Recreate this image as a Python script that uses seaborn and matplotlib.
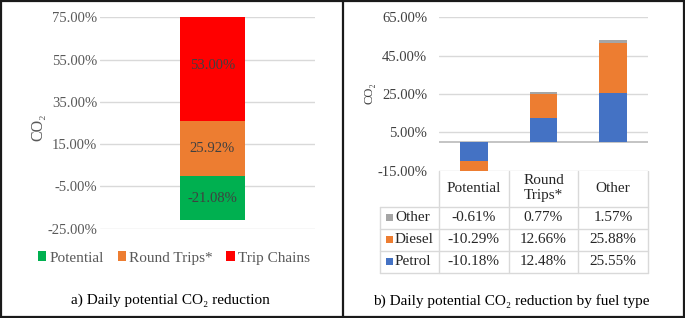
import matplotlib
matplotlib.use("Agg")
import numpy as np
import pandas as pd
import seaborn as sns
import matplotlib.pyplot as plt
import matplotlib.transforms as mtransforms
from matplotlib.patches import Patch, Rectangle
from matplotlib.lines import Line2D

# panel a) - one stacked bar
trip_series = ["Potential", "Round Trips*", "Trip Chains"]
trip_values = [-21.08, 25.92, 53.00]
trip_colors = ["#00B050", "#ED7D31", "#FF0000"]
left_ticks = [-25, -5, 15, 35, 55, 75]

# panel b) - by fuel type
fuel_categories = ["Potential", "Round Trips*", "Other"]
fuel_header = ["Potential", "Round\nTrips*", "Other"]
fuel_series = ["Petrol", "Diesel", "Other"]
petrol = [-10.18, 12.48, 25.55]
diesel = [-10.29, 12.66, 25.88]
other = [-0.61, 0.77, 1.57]
fuel_colors = ["#4472C4", "#ED7D31", "#A5A5A5"]
right_ticks = [-15, 5, 25, 45, 65]

sns.set_theme(style="white")
plt.rcParams['font.family'] = ['Liberation Serif', 'DejaVu Serif']

W, H = 685, 318
fig = plt.figure(figsize=(W / 100, H / 100), dpi=100)


def fx(px):
    return px / W


def fy(py):
    return 1 - py / H


def stack_bottoms(series):
    n = len(series[0])
    pos = np.zeros(n)
    neg = np.zeros(n)
    out = []
    for v in series:
        v = np.asarray(v, dtype=float)
        out.append(np.where(v >= 0, pos, neg))
        pos = pos + np.where(v >= 0, v, 0)
        neg = neg + np.where(v < 0, v, 0)
    return out


# ---------- left panel ----------
ax1 = fig.add_axes([fx(100), fy(228.7), fx(215), 211.4 / H])
left_vals = [[v] for v in trip_values]
left_bottoms = stack_bottoms(left_vals)
for name, v, b, c in zip(trip_series, left_vals, left_bottoms, trip_colors):
    sns.barplot(x=["CO2"], y=v, bottom=b, color=c, width=0.3, saturation=1,
                errorbar=None, linewidth=0, ax=ax1)
    ax1.text(0, b[0] + v[0] / 2, f"{v[0]:.2f}%", ha="center", va="center",
             color="#404040", fontsize=10.5)
ax1.set_ylim(-25, 75)
ax1.set_xlim(-0.523, 0.477)
ax1.set_yticks(left_ticks)
ax1.set_yticklabels([f"{t:.2f}%" for t in left_ticks])
ax1.set_xticks([])
ax1.set_xlabel("")
ax1.yaxis.grid(True, color="#D9D9D9", lw=1)
ax1.set_axisbelow(True)
sns.despine(ax=ax1, left=True, bottom=True)
ax1.tick_params(axis="y", length=0, labelsize=10.5, labelcolor="#595959", pad=2)
fig.text(fx(38), fy(127), "CO₂", rotation=90, ha="center", va="center",
         fontsize=11.5, color="#595959")
handles = [Patch(facecolor=c, edgecolor="none") for c in trip_colors]
leg = fig.legend(handles, trip_series, loc="center", bbox_to_anchor=(fx(174), fy(258)),
                 ncol=3, frameon=False, fontsize=11, handlelength=0.55, handleheight=0.55,
                 handletextpad=0.2, columnspacing=0.9)
for t in leg.get_texts():
    t.set_color("#595959")
fig.text(fx(170), fy(300), "a) Daily potential CO₂ reduction", ha="center", va="center",
         fontsize=11, color="black")

# ---------- right panel ----------
ax2 = fig.add_axes([fx(439), fy(170.7), fx(209), 153.4 / H])
fuel_vals = [petrol, diesel, other]
fuel_bottoms = stack_bottoms(fuel_vals)
for name, v, b, c in zip(fuel_series, fuel_vals, fuel_bottoms, fuel_colors):
    sns.barplot(x=fuel_categories, y=v, bottom=b, color=c, width=0.4, saturation=1,
                errorbar=None, linewidth=0, ax=ax2)
ax2.set_ylim(-15, 65)
ax2.set_xlim(-0.5, 2.5)
ax2.set_yticks(right_ticks)
ax2.set_yticklabels([f"{t:.2f}%" for t in right_ticks])
ax2.set_xticks([])
ax2.set_xlabel("")
ax2.yaxis.grid(True, color="#D9D9D9", lw=1)
ax2.set_axisbelow(True)
ax2.axhline(0, color="#BFBFBF", lw=1.3, zorder=0.5)
sns.despine(ax=ax2, left=True, bottom=True)
ax2.tick_params(axis="y", length=0, labelsize=10.5, labelcolor="#404040", pad=8.5)
fig.text(fx(370), fy(93), "CO₂", rotation=90, ha="center", va="center",
         fontsize=9, color="#404040")

# data table under the bars
grid_c = "#D9D9D9"
txt_c = "#262626"
bt = mtransforms.blended_transform_factory(ax2.transData, fig.transFigure)
row_y = [206.7, 229, 250.7, 272.7]
for xb in [-0.5, 0.5, 1.5, 2.5]:
    fig.add_artist(Line2D([xb, xb], [fy(170.7), fy(272.7)], color=grid_c, lw=1, transform=bt))
fig.add_artist(Line2D([fx(380), fx(380)], [fy(206.7), fy(272.7)], color=grid_c, lw=1,
                      transform=fig.transFigure))
for yy in row_y:
    fig.add_artist(Line2D([fx(380), fx(648)], [fy(yy), fy(yy)], color=grid_c, lw=1,
                          transform=fig.transFigure))
for i, h in enumerate(fuel_header):
    fig.text(i, fy(188.5), h, ha="center", va="center", fontsize=11, color=txt_c,
             transform=bt, linespacing=1.2)
# rows in the order Other, Diesel, Petrol
for r, k in enumerate([2, 1, 0]):
    yc = (row_y[r] + row_y[r + 1]) / 2
    fig.add_artist(Rectangle((fx(386), fy(yc + 3.5)), fx(7), 7 / H, facecolor=fuel_colors[k],
                             edgecolor="none", transform=fig.transFigure))
    fig.text(fx(395), fy(yc), fuel_series[k], ha="left", va="center", fontsize=11,
             color=txt_c)
    for i, v in enumerate(fuel_vals[k]):
        fig.text(i, fy(yc), f"{v:.2f}%", ha="center", va="center", fontsize=11,
                 color=txt_c, transform=bt)
fig.text(fx(511), fy(301), "b) Daily potential CO₂ reduction by fuel type", ha="center",
         va="center", fontsize=11, color="black")

# outer frame and divider
fig.add_artist(Rectangle((fx(1), 1 / H), fx(683), 316 / H, fill=False, edgecolor="#1a1a1a",
                         lw=1.6, transform=fig.transFigure))
fig.add_artist(Line2D([fx(342.5), fx(342.5)], [0, 1], color="#1a1a1a", lw=1.6,
                      transform=fig.transFigure))

fig.savefig("out.png", dpi=100)
